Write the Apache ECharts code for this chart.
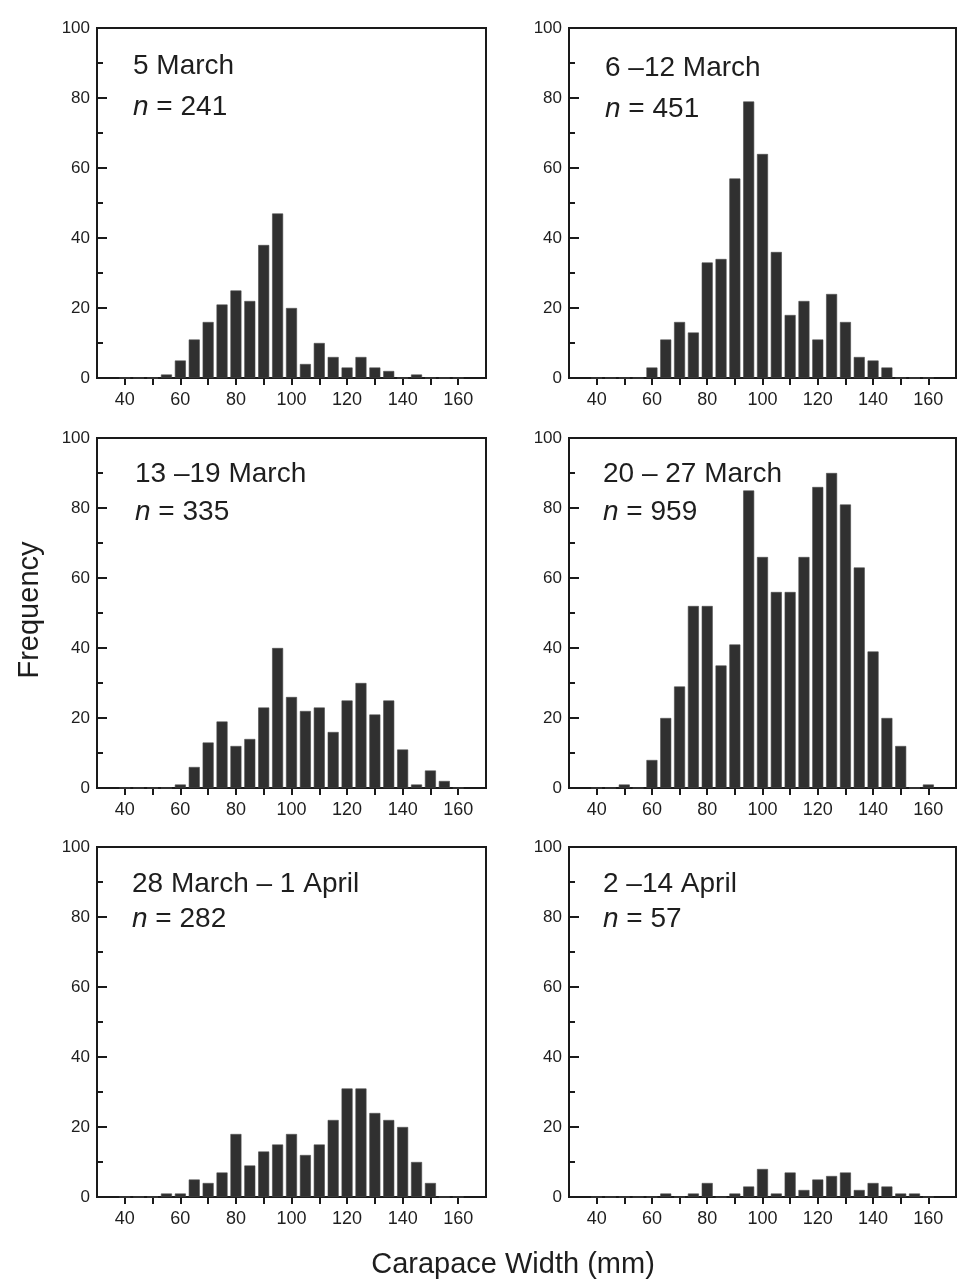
<!DOCTYPE html>
<html>
<head>
<meta charset="utf-8">
<script src="https://cdn.jsdelivr.net/npm/echarts@6/dist/echarts.min.js"></script>
<style>
  html, body { margin: 0; padding: 0; background: #ffffff; }
  #chart { width: 958px; height: 1282px; }
</style>
</head>
<body>
<div id="chart"></div>
<script>
// Bin centres (carapace width, mm)
const bins = [40, 45, 50, 55, 60, 65, 70, 75, 80, 85, 90, 95, 100, 105, 110, 115, 120, 125, 130, 135, 140, 145, 150, 155, 160];

// Frequencies per bin for each sampling period
const counts5Mar      = [0, 0, 0, 1, 5, 11, 16, 21, 25, 22, 38, 47, 20, 4, 10, 6, 3, 6, 3, 2, 0, 1, 0, 0, 0];
const counts6to12Mar  = [0, 0, 0, 0, 3, 11, 16, 13, 33, 34, 57, 79, 64, 36, 18, 22, 11, 24, 16, 6, 5, 3, 0, 0, 0];
const counts13to19Mar = [0, 0, 0, 0, 1, 6, 13, 19, 12, 14, 23, 40, 26, 22, 23, 16, 25, 30, 21, 25, 11, 1, 5, 2, 0];
const counts20to27Mar = [0, 0, 1, 0, 8, 20, 29, 52, 52, 35, 41, 85, 66, 56, 56, 66, 86, 90, 81, 63, 39, 20, 12, 0, 1];
const counts28Mar1Apr = [0, 0, 0, 1, 1, 5, 4, 7, 18, 9, 13, 15, 18, 12, 15, 22, 31, 31, 24, 22, 20, 10, 4, 0, 0];
const counts2to14Apr  = [0, 0, 0, 0, 0, 1, 0, 1, 4, 0, 1, 3, 8, 1, 7, 2, 5, 6, 7, 2, 4, 3, 1, 1, 0];

const panelLabels = ['5 March', '6 \u201312 March', '13 \u201319 March', '20 \u2013 27 March', '28 March \u2013 1 April', '2 \u201314 April'];
const panelN = [241, 451, 335, 959, 282, 57];
const panelCounts = [counts5Mar, counts6to12Mar, counts13to19Mar, counts20to27Mar, counts28Mar1Apr, counts2to14Apr];

// Axis ticks / labels
const xTickValues = [40, 50, 60, 70, 80, 90, 100, 110, 120, 130, 140, 150, 160];
const xLabelValues = [40, 60, 80, 100, 120, 140, 160];
const yLabelValues = [0, 20, 40, 60, 80, 100];

const xAxisTitle = 'Carapace Width (mm)';
const yAxisTitle = 'Frequency';

// Layout (style, not data)
const colLeft = [97, 569];
const colWidth = [389, 387];
const rowTop = [28, 438, 847];
const panelHeight = 350;
const titlePos = [[133, 46], [605, 48], [135, 455], [603, 455], [132, 867], [603, 867]];
const titleLineHeight = [41, 41, 38, 38, 35, 35];

const FONT = "'Liberation Sans', Arial, Helvetica, sans-serif";
const INK = '#1e1e1e';

const grids = [], xAxes = [], yAxes = [], series = [], titles = [];
for (let i = 0; i < 6; i++) {
  const r = Math.floor(i / 2), c = i % 2;
  grids.push({
    left: colLeft[c], top: rowTop[r], width: colWidth[c], height: panelHeight,
    show: true, borderColor: '#1a1a1a', borderWidth: 2, backgroundColor: 'transparent',
    containLabel: false
  });
  xAxes.push({
    type: 'value', gridIndex: i, min: 30, max: 170, interval: 10,
    axisLine: { show: true, onZero: false, lineStyle: { color: '#1a1a1a', width: 2 } },
    axisTick: { show: true, inside: false, length: 7, customValues: xTickValues, lineStyle: { color: '#1a1a1a', width: 2 } },
    axisLabel: { show: true, customValues: xLabelValues, fontSize: 18, fontFamily: FONT, color: INK, margin: 13 },
    splitLine: { show: false }
  });
  yAxes.push({
    type: 'value', gridIndex: i, min: 0, max: 100, interval: 20,
    axisLine: { show: true, lineStyle: { color: '#1a1a1a', width: 2 } },
    axisTick: { show: true, inside: true, length: 10, lineStyle: { color: '#1a1a1a', width: 2 } },
    minorTick: { show: true, splitNumber: 2, length: 6, lineStyle: { color: '#1a1a1a', width: 2 } },
    axisLabel: { show: true, customValues: yLabelValues, fontSize: 17, fontFamily: FONT, color: INK, margin: 7 },
    splitLine: { show: false }
  });
  series.push({
    type: 'bar', xAxisIndex: i, yAxisIndex: i,
    barWidth: 11,
    itemStyle: { color: '#303030', borderColor: '#4a4a4a', borderWidth: 0.6 },
    data: bins.map((b, j) => [b, panelCounts[i][j]]),
    silent: true, animation: false
  });
  const lh = titleLineHeight[i];
  titles.push({
    text: panelLabels[i] + '\n{i|n} = ' + panelN[i],
    left: titlePos[i][0], top: titlePos[i][1], padding: 0,
    textStyle: {
      fontSize: 28, fontWeight: 'normal', fontFamily: FONT, color: INK, lineHeight: lh,
      rich: { i: { fontStyle: 'italic', fontSize: 28, fontFamily: FONT, color: INK, lineHeight: lh } }
    }
  });
}

const chart = echarts.init(document.getElementById('chart'), null, { renderer: 'canvas' });
chart.setOption({
  backgroundColor: '#ffffff',
  animation: false,
  title: titles,
  grid: grids,
  xAxis: xAxes,
  yAxis: yAxes,
  series: series,
  graphic: [
    {
      type: 'text', x: 30, y: 610, rotation: Math.PI / 2,
      style: { text: yAxisTitle, fontSize: 29, fontFamily: FONT, fill: INK, align: 'center', verticalAlign: 'middle' }
    },
    {
      type: 'text', x: 513, y: 1265,
      style: { text: xAxisTitle, fontSize: 29, fontFamily: FONT, fill: INK, align: 'center', verticalAlign: 'middle' }
    }
  ]
});
</script>
</body>
</html>
